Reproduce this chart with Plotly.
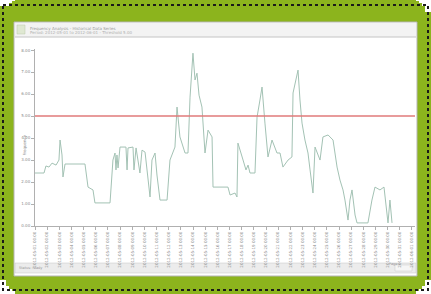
import plotly.graph_objects as go

# ---- data ----
days = [0, 0.74, 0.90, 1.15, 1.40, 1.73, 1.97, 2.06, 2.22, 2.30, 2.47, 4.11, 4.36, 4.77, 4.93,
        6.17, 6.41, 6.58, 6.66, 6.74, 6.83, 6.99, 7.48, 7.57, 7.65, 8.06, 8.14, 8.31, 8.63, 8.80,
        9.05, 9.46, 9.62, 9.87, 10.03, 10.28, 10.86, 11.10, 11.51, 11.68, 11.92, 12.34, 12.58,
        12.75, 12.99, 13.16, 13.32, 13.49, 13.73, 13.98, 14.23, 14.56, 14.64, 15.87, 16.04, 16.45,
        16.61, 16.69, 17.11, 17.35, 17.52, 17.68, 18.09, 18.26, 18.50, 18.67, 18.91, 19.16, 19.49,
        19.90, 20.15, 20.39, 20.81, 21.13, 21.22, 21.46, 21.63, 21.79, 21.96, 22.20, 22.45, 22.62,
        22.86, 23.03, 23.27, 23.44, 23.68, 24.10, 24.51, 24.84, 25.08, 25.33, 25.49, 25.74, 25.90,
        26.07, 26.32, 26.48, 27.38, 27.55, 27.71, 27.96, 28.37, 28.70, 28.95, 29.03, 29.19, 29.36]
values = [2.41, 2.41, 2.73, 2.68, 2.86, 2.77, 3.00, 3.91, 3.23, 2.23, 2.82, 2.82, 1.77, 1.64, 1.05,
          1.05, 3.00, 3.32, 2.55, 3.23, 2.64, 3.59, 3.59, 2.55, 3.55, 3.59, 2.55, 3.55, 2.41, 3.45,
          3.36, 1.32, 3.00, 3.32, 2.32, 1.18, 1.18, 3.00, 3.59, 5.41, 4.05, 3.32, 3.32,
          5.86, 7.86, 6.64, 6.95, 5.95, 5.41, 3.32, 4.36, 4.05, 1.77, 1.77, 1.41, 1.50,
          1.32, 3.77, 3.00, 2.55, 2.77, 2.41, 2.41, 4.95, 5.73, 6.32, 4.68, 3.14, 3.91,
          3.32, 3.32, 2.68, 3.00, 3.14, 6.05, 6.64, 7.09, 5.73, 4.68, 3.91, 3.32, 2.55,
          1.50, 3.59, 3.23, 3.00, 4.05, 4.14, 3.91, 2.68, 2.09, 1.64, 1.18, 0.27, 1.18,
          1.64, 0.50, 0.14, 0.14, 0.73, 1.18, 1.77, 1.64, 1.77, 0.50, 0.14, 1.18, 0.14]
threshold = 5.0
tick_days = list(range(32))
tick_labels = ["2012-05-%02d 00:00" % (d + 1) if d < 31 else "2012-06-01 00:00" for d in tick_days]
y_ticks = [0, 1, 2, 3, 4, 5, 6, 7, 8]

# ---- layout helpers (pixel -> paper) ----
W, H = 431, 294
ML, MR, MT, MB = 35, 16, 49, 68
PW, PH = W - ML - MR, H - MT - MB


def X(px):
    return (px - ML) / PW


def Y(py):
    return (H - MB - py) / PH


GREEN = "#8cb41d"

fig = go.Figure()
fig.add_trace(go.Scatter(x=days, y=values, mode="lines",
                         line=dict(color="#a3c2b4", width=1), showlegend=False))
fig.add_hline(y=threshold, line=dict(color="#e07a7a", width=1.5))

shapes = []
# white rounded-corner masks (stair-step approximation)
for cx, cy, sx, sy in [(0, 0, 1, 1), (W, 0, -1, 1), (0, H, 1, -1), (W, H, -1, -1)]:
    for dx, dy in [(6, 12), (9, 6), (12, 3), (15, 1)]:
        xa, xb = sorted([cx, cx + sx * dx])
        ya, yb = sorted([cy, cy + sy * (dy if sy > 0 else dy + 2)])
        shapes.append(dict(type="rect", xref="paper", yref="paper", x0=X(xa), x1=X(xb),
                           y0=Y(ya), y1=Y(yb), fillcolor="#ffffff", line=dict(width=0), layer="below"))
shapes += [
    dict(type="rect", xref="paper", yref="paper", x0=X(3), x1=X(428), y0=Y(5), y1=Y(290),
         fillcolor="rgba(0,0,0,0)", line=dict(color="#1a1a1a", width=2, dash="dot"), layer="below"),
    dict(type="rect", xref="paper", yref="paper", x0=X(14), x1=X(417), y0=Y(22), y1=Y(276),
         fillcolor="#ffffff", line=dict(color="#b5b5b5", width=1), layer="below"),
    dict(type="rect", xref="paper", yref="paper", x0=X(15), x1=X(416), y0=Y(23), y1=Y(37),
         fillcolor="#f3f3f3", line=dict(width=0), layer="below"),
    dict(type="line", xref="paper", yref="paper", x0=X(15), x1=X(416), y0=Y(37), y1=Y(37),
         line=dict(color="#c4c4c4", width=1), layer="below"),
    dict(type="rect", xref="paper", yref="paper", x0=X(17), x1=X(25), y0=Y(25), y1=Y(34),
         fillcolor="#dfe8d2", line=dict(color="#b8c8a8", width=0.5), layer="below"),
    dict(type="rect", xref="paper", yref="paper", x0=X(15), x1=X(416), y0=Y(263), y1=Y(273),
         fillcolor="#ececec", line=dict(color="#c4c4c4", width=0.5), layer="below"),
    dict(type="rect", xref="paper", yref="paper", x0=X(395), x1=X(412), y0=Y(265), y1=Y(271),
         fillcolor="#f6f6f6", line=dict(color="#c8c8c8", width=0.5), layer="below"),
]

annotations = [
    dict(text="Frequency Analysis - Historical Data Series", x=X(28), y=Y(28), xref="paper", yref="paper",
         showarrow=False, xanchor="left", yanchor="middle", font=dict(size=4, color="#9a9a9a")),
    dict(text="Period: 2012-05-01 to 2012-06-01 - Threshold 5.00", x=X(28), y=Y(33), xref="paper", yref="paper",
         showarrow=False, xanchor="left", yanchor="middle", font=dict(size=4, color="#b0b0b0")),
    dict(text="Frequency", x=X(19), y=Y(145), xref="paper", yref="paper", textangle=-90,
         showarrow=False, font=dict(size=4, color="#888888")),
    dict(text="Status: ready", x=X(17), y=Y(268), xref="paper", yref="paper",
         showarrow=False, xanchor="left", yanchor="middle", font=dict(size=3.5, color="#999999")),
    dict(text="Page 1", x=X(403), y=Y(268), xref="paper", yref="paper",
         showarrow=False, font=dict(size=3.5, color="#999999")),
]

fig.update_layout(
    width=W, height=H,
    margin=dict(l=ML, r=MR, t=MT, b=MB, pad=0),
    paper_bgcolor=GREEN, plot_bgcolor="rgba(0,0,0,0)",
    shapes=shapes, annotations=annotations,
    font=dict(family="DejaVu Sans", color="#888888"),
)
fig.update_xaxes(range=[0, PW / 12.16], tickvals=tick_days, ticktext=tick_labels, tickangle=-90,
                 tickfont=dict(size=4, color="#8a8a8a"), showgrid=False, zeroline=False,
                 showline=True, linecolor="#b0b0b0", linewidth=1, ticks="outside", ticklen=3,
                 tickcolor="#b0b0b0")
fig.update_yaxes(range=[0, 8.05], tickvals=y_ticks, tickformat=".2f",
                 tickfont=dict(size=4, color="#8a8a8a"), showgrid=False, zeroline=False,
                 showline=True, linecolor="#b0b0b0", linewidth=1, ticks="outside", ticklen=3,
                 tickcolor="#b0b0b0")

fig.write_html("out.html", config={"displayModeBar": False},
               post_script="document.body.style.margin='0';document.body.style.overflow='hidden';")
